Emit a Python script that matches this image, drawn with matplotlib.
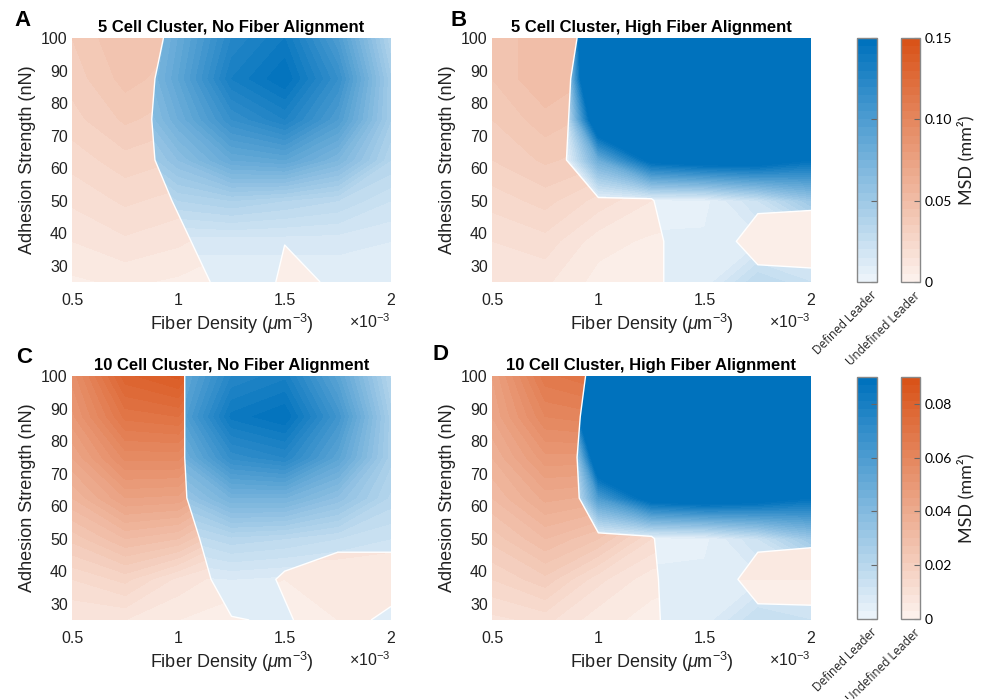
import numpy as np
import matplotlib.pyplot as plt
from matplotlib.colors import LinearSegmentedColormap, Normalize
from matplotlib.cm import ScalarMappable

plt.rcParams['font.family'] = ['Liberation Sans', 'DejaVu Sans']
plt.rcParams['mathtext.fontset'] = 'custom'
plt.rcParams['mathtext.rm'] = 'Liberation Sans'
plt.rcParams['mathtext.it'] = 'Liberation Sans:italic'

# grid of the parameter sweep
fiber_density = [0.5, 0.75, 1.0, 1.25, 1.5, 1.75, 2.0]   # x 1e-3 um^-3
adhesion = [25, 37.5, 50, 62.5, 75, 87.5, 100]            # nN
# every table below: rows follow adhesion (25 -> 100), columns follow fiber_density

# --- A: 5 cells, no alignment ---
msd_A = [[0.004, 0.006, 0.004, 0.002, 0.004, 0.004, 0.002],
         [0.010, 0.014, 0.011, 0.006, 0.004, 0.004, 0.003],
         [0.016, 0.021, 0.018, 0.012, 0.008, 0.006, 0.005],
         [0.022, 0.028, 0.025, 0.020, 0.014, 0.010, 0.007],
         [0.028, 0.036, 0.032, 0.025, 0.018, 0.012, 0.008],
         [0.032, 0.042, 0.037, 0.028, 0.020, 0.014, 0.010],
         [0.035, 0.045, 0.040, 0.030, 0.020, 0.015, 0.010]]
leader_A = [[0.003, 0.005, 0.006, 0.006, 0.006, 0.006, 0.005],
            [0.005, 0.010, 0.012, 0.012, 0.012, 0.012, 0.010],
            [0.010, 0.020, 0.035, 0.040, 0.035, 0.030, 0.020],
            [0.015, 0.035, 0.060, 0.085, 0.090, 0.070, 0.035],
            [0.020, 0.045, 0.080, 0.115, 0.130, 0.100, 0.045],
            [0.020, 0.050, 0.090, 0.135, 0.150, 0.115, 0.045],
            [0.020, 0.045, 0.085, 0.125, 0.140, 0.100, 0.035]]
defined_A = [[-1, -1, -1.50, 1.00, -0.20, 0.10, 0.50],
             [-1, -1, -0.24, 0.76, 0.02, 0.03, 0.30],
             [-1, -0.88, 0.12, 1, 1, 1, 1],
             [-1, -0.56, 0.44, 1, 1, 1, 1],
             [-1, -0.50, 0.50, 1, 1, 1, 1],
             [-1, -0.56, 0.44, 1, 1, 1, 1],
             [-1, -0.72, 0.28, 1, 1, 1, 1]]

# --- B: 5 cells, high alignment ---
msd_B = [[0.010, 0.011, 0.003, 0.002, 0.002, 0.002, 0.003],
         [0.015, 0.018, 0.007, 0.004, 0.003, 0.003, 0.003],
         [0.022, 0.027, 0.018, 0.010, 0.007, 0.005, 0.005],
         [0.030, 0.036, 0.032, 0.022, 0.015, 0.010, 0.008],
         [0.035, 0.043, 0.038, 0.026, 0.018, 0.012, 0.010],
         [0.040, 0.050, 0.044, 0.030, 0.020, 0.014, 0.010],
         [0.040, 0.050, 0.045, 0.030, 0.020, 0.015, 0.010]]
leader_B = [[0.003, 0.003, 0.004, 0.005, 0.006, 0.030, 0.020],
            [0.005, 0.005, 0.005, 0.006, 0.006, 0.008, 0.012],
            [0.000, 0.000, 0.000, 0.002, 0.003, 0.020, 0.050],
            [-0.05, -0.05, 0.080, 0.160, 0.170, 0.170, 0.150],
            [-0.10, -0.10, 0.200, 0.300, 0.300, 0.300, 0.300],
            [-0.15, -0.15, 0.300, 0.300, 0.300, 0.300, 0.300],
            [-0.20, -0.20, 0.350, 0.300, 0.300, 0.300, 0.300]]
defined_B = [[-1, -1, -1, -0.30, 1, 0.50, 0.40],
             [-1, -1, -1, -0.30, 1, -0.68, -0.76],
             [-1, -1, -0.05, -0.05, 1, 0.32, 0.24],
             [-1, -0.40, 0.60, 1, 1, 1, 1],
             [-1, -0.44, 0.56, 1, 1, 1, 1],
             [-1, -0.48, 0.52, 1, 1, 1, 1],
             [-1, -0.60, 0.40, 1, 1, 1, 1]]

# --- C: 10 cells, no alignment ---
msd_C = [[0.006, 0.006, 0.003, 0.002, 0.002, 0.003, 0.003],
         [0.012, 0.016, 0.008, 0.004, 0.003, 0.004, 0.004],
         [0.022, 0.030, 0.027, 0.015, 0.010, 0.008, 0.007],
         [0.033, 0.045, 0.044, 0.030, 0.020, 0.015, 0.010],
         [0.042, 0.058, 0.058, 0.040, 0.030, 0.020, 0.015],
         [0.050, 0.070, 0.072, 0.050, 0.035, 0.025, 0.018],
         [0.055, 0.080, 0.085, 0.060, 0.040, 0.030, 0.020]]
leader_C = [[0.002, 0.003, 0.004, 0.004, 0.004, 0.004, 0.004],
            [0.002, 0.004, 0.005, 0.006, 0.005, 0.005, 0.005],
            [0.003, 0.008, 0.015, 0.020, 0.018, 0.015, 0.012],
            [0.005, 0.015, 0.030, 0.045, 0.045, 0.035, 0.020],
            [0.010, 0.020, 0.045, 0.070, 0.075, 0.055, 0.025],
            [0.010, 0.025, 0.055, 0.085, 0.090, 0.065, 0.025],
            [0.010, 0.020, 0.050, 0.075, 0.080, 0.055, 0.020]]
defined_C = [[-1, -1, -1, -0.05, 0.10, -0.50, 0.30],
             [-1, -1, -0.80, 0.50, -0.10, -0.60, -0.60],
             [-1, -1, -0.40, 0.60, 0.40, 0.30, 0.30],
             [-1, -1, -0.16, 0.84, 1, 1, 1],
             [-1, -1, -0.12, 0.88, 1, 1, 1],
             [-1, -1, -0.12, 0.88, 1, 1, 1],
             [-1, -1, -0.12, 0.88, 1, 1, 1]]

# --- D: 10 cells, high alignment ---
msd_D = [[0.008, 0.010, 0.004, 0.002, 0.002, 0.002, 0.002],
         [0.015, 0.020, 0.010, 0.004, 0.003, 0.003, 0.003],
         [0.022, 0.030, 0.024, 0.012, 0.008, 0.006, 0.005],
         [0.030, 0.040, 0.038, 0.027, 0.020, 0.015, 0.010],
         [0.036, 0.050, 0.050, 0.036, 0.026, 0.020, 0.015],
         [0.042, 0.060, 0.062, 0.045, 0.030, 0.022, 0.018],
         [0.045, 0.068, 0.072, 0.050, 0.035, 0.025, 0.020]]
leader_D = [[0.002, 0.002, 0.003, 0.004, 0.004, 0.015, 0.012],
            [0.003, 0.003, 0.003, 0.004, 0.004, 0.005, 0.006],
            [0.000, 0.000, 0.000, 0.001, 0.002, 0.012, 0.030],
            [-0.05, -0.05, 0.060, 0.100, 0.105, 0.100, 0.090],
            [-0.10, -0.10, 0.120, 0.200, 0.200, 0.200, 0.200],
            [-0.10, -0.10, 0.200, 0.200, 0.200, 0.200, 0.200],
            [-0.10, -0.10, 0.200, 0.200, 0.200, 0.200, 0.200]]
defined_D = [[-1, -1, -1, -0.20, 1, 0.40, 0.40],
             [-1, -1, -1, -0.15, 1, -0.60, -0.70],
             [-1, -1, -0.06, -0.06, 1, 0.30, 0.20],
             [-1, -0.64, 0.36, 1, 1, 1, 1],
             [-1, -0.60, 0.40, 1, 1, 1, 1],
             [-1, -0.66, 0.34, 1, 1, 1, 1],
             [-1, -0.76, 0.24, 1, 1, 1, 1]]

titles = ['5 Cell Cluster, No Fiber Alignment', '5 Cell Cluster, High Fiber Alignment',
          '10 Cell Cluster, No Fiber Alignment', '10 Cell Cluster, High Fiber Alignment']
letters = ['A', 'B', 'C', 'D']
msd_max = [0.15, 0.09]
msd_ticks = [[0, 0.05, 0.10, 0.15], [0, 0.02, 0.04, 0.06, 0.08]]
msd_ticklabels = [['0', '0.05', '0.10', '0.15'], ['0', '0.02', '0.04', '0.06', '0.08']]

blues = LinearSegmentedColormap.from_list('defined', ['#ebf3fa', '#0072bd'])
reds = LinearSegmentedColormap.from_list('undefined', ['#fcf0eb', '#d95319'])

W, H = 984, 699
fig = plt.figure(figsize=(W / 100, H / 100), dpi=100)


def px(x0, y0, x1, y1):
    # pixel box -> figure fraction rect
    return [x0 / W, 1 - y1 / H, (x1 - x0) / W, (y1 - y0) / H]


def draw_panel(ax, msd, leader, defined, vmax):
    X, Y = np.meshgrid(fiber_density, adhesion)
    levels = np.linspace(0, vmax, 31)
    ax.contourf(X, Y, np.array(msd), levels=levels, cmap=reds, extend='both')
    # region where a defined leader exists -> clip the blue field to it
    region = ax.contourf(X, Y, np.array(defined), levels=[0, 10])
    clip = region.get_paths()[0]
    region.remove()
    cf = ax.contourf(X, Y, np.array(leader), levels=levels, cmap=blues, extend='both')
    cf.set_clip_path(clip, transform=ax.transData)
    ax.contour(X, Y, np.array(defined), levels=[0], colors='white', linewidths=1.0)
    ax.set_xlim(0.5, 2)
    ax.set_ylim(25, 100)
    ax.set_xticks([0.5, 1, 1.5, 2])
    ax.set_xticklabels(['0.5', '1', '1.5', '2'])
    ax.set_yticks(range(30, 101, 10))
    for s in ax.spines.values():
        s.set_visible(False)
    ax.tick_params(axis='both', length=0, labelsize=11.5, colors='#222222')
    ax.tick_params(axis='x', pad=8)
    ax.tick_params(axis='y', pad=3)
    ax.set_xlabel('Fiber Density ($\\mu$m$^{-3}$)', fontsize=13, color='#222222', labelpad=3)
    ax.set_ylabel('Adhesion Strength (nN)', fontsize=13, color='#222222', labelpad=4)
    ax.text(1.0, -0.125, '$\\times$10$^{-3}$', transform=ax.transAxes, ha='right', va='top',
            fontsize=11.5, color='#222222')


panels = [(msd_A, leader_A, defined_A), (msd_B, leader_B, defined_B),
          (msd_C, leader_C, defined_C), (msd_D, leader_D, defined_D)]
boxes = [(72, 38, 391, 282), (492, 38, 811, 282), (72, 376, 391, 620), (492, 376, 811, 620)]
letter_pos = [(14, 10), (451, 10), (16, 347), (432, 344)]

for i, (msd, leader, defined) in enumerate(panels):
    ax = fig.add_axes(px(*boxes[i]))
    draw_panel(ax, msd, leader, defined, msd_max[i // 2])
    ax.set_title(titles[i], fontsize=12, fontweight='bold', pad=4)
    fig.text(letter_pos[i][0] / W, 1 - letter_pos[i][1] / H, letters[i],
             fontsize=16, fontweight='bold', va='top', ha='left')

# colorbars
rows = [(38, 282), (377, 619)]
for r, (top, bot) in enumerate(rows):
    norm = Normalize(0, msd_max[r])
    for x0, x1, cmap, name, labelled in [(857, 877, blues, 'Defined Leader', False),
                                         (901, 920, reds, 'Undefined Leader', True)]:
        cax = fig.add_axes(px(x0, top, x1, bot))
        cb = fig.colorbar(ScalarMappable(norm=norm, cmap=cmap.resampled(30)), cax=cax,
                          ticks=msd_ticks[r])
        cb.outline.set_edgecolor('#888888')
        cb.outline.set_linewidth(1.0)
        cax.tick_params(direction='in', length=4, width=0.8, color='#666666',
                        labelsize=10, labelright=labelled)
        if labelled:
            cax.set_yticklabels(msd_ticklabels[r], family=['Lato', 'DejaVu Sans'])
        fig.text(((x0 + x1) / 2 + 3) / W, 1 - (bot + 7) / H, name, rotation=45,
                 rotation_mode='anchor', ha='right', va='top', fontsize=8.5,
                 family=['Open Sans', 'DejaVu Sans'], color='#222222')
    fig.text(966 / W, 1 - ((top + bot) / 2) / H, 'MSD (mm²)', rotation=90, ha='center',
             va='center', fontsize=13, family=['Lato', 'DejaVu Sans'], color='#222222')

fig.savefig('out.png', dpi=100)
